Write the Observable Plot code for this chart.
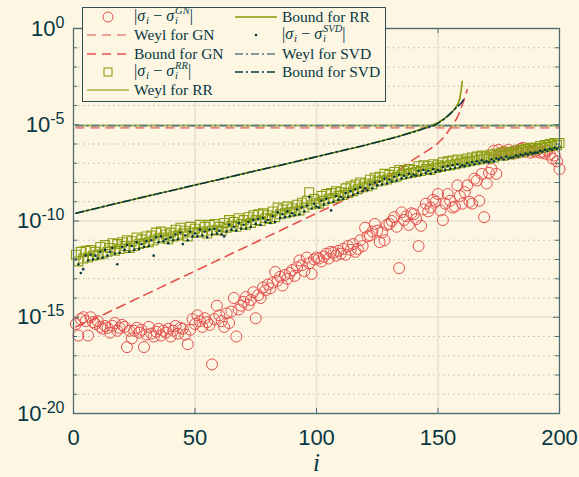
<!DOCTYPE html>
<html><head><meta charset="utf-8">
<script src="https://cdn.jsdelivr.net/npm/d3@7"></script>
<script src="https://cdn.jsdelivr.net/npm/@observablehq/plot@0.6"></script>
<style>
html,body{margin:0;padding:0;background:#fdf6e3;}
#wrap{position:relative;width:579px;height:477px;overflow:hidden;background:#fdf6e3;}
#legend{position:absolute;left:82px;top:7px;width:302px;height:93px;border:1px solid #2f4d54;background:#fdf6e3;font-family:"Liberation Serif",serif;font-size:15.5px;color:#073642;}
.item{position:absolute;display:flex;align-items:center;height:18px;white-space:nowrap;}
.item svg{display:block;margin-right:5px;flex:none;}
.m{font-size:16px;}
.m i{font-style:italic;}
.sb{font-size:11px;font-style:italic;position:relative;top:3px;margin-left:1px;}
.ss{display:inline-flex;flex-direction:column;vertical-align:middle;font-size:10.5px;font-style:italic;line-height:10px;position:relative;top:-1px;margin-left:1px;}
</style></head>
<body>
<div id="wrap"></div>
<script>
// index i
const idx = d3.range(1, 201);
const xTicks = [0, 50, 100, 150, 200];
const yMajor = [1e0, 1e-5, 1e-10, 1e-15, 1e-20];
const yMinor = d3.range(-19, 0).filter(e => e % 5 !== 0).map(e => 10 ** e);

// log10 |sigma_i - sigma_i^GN|
const gnLog = [
-15.35,-15.95,-15.1,-15.0,-15.2,-15.95,-15.0,-15.25,-15.35,-15.2,
-15.5,-15.6,-15.45,-15.55,-15.8,-15.45,-15.3,-15.7,-15.55,-15.4,
-15.5,-16.55,-15.7,-16.1,-15.7,-15.55,-15.8,-15.65,-16.55,-15.9,
-15.5,-15.85,-16.0,-15.75,-15.6,-15.95,-15.7,-15.8,-15.6,-16.0,
-15.7,-15.45,-15.85,-15.55,-15.6,-15.9,-16.4,-15.65,-15.1,-15.35,
-14.9,-15.2,-15.5,-15.05,-15.25,-15.4,-17.45,-15.1,-14.4,-14.9,
-15.2,-15.5,-14.8,-15.3,-14.7,-14.0,-16.0,-14.6,-14.4,-14.2,
-13.95,-14.35,-14.1,-13.7,-15.05,-13.85,-14.0,-13.45,-13.6,-13.3,
-13.5,-13.2,-12.65,-13.1,-12.9,-13.35,-12.8,-13.0,-12.7,-12.55,
-12.85,-12.4,-12.05,-12.3,-12.6,-11.9,-12.2,-12.75,-12.0,-11.9,
-11.95,-12.1,-11.85,-11.7,-11.95,-11.6,-11.65,-11.8,-11.55,-11.7,
-11.45,-11.75,-11.3,-11.5,-11.2,-11.6,-11.45,-11.0,-11.3,-10.35,
-10.8,-10.75,-10.55,-10.15,-10.5,-11.1,-10.6,-11.0,-10.2,-10.15,
-10.0,-9.8,-10.3,-12.45,-9.55,-9.95,-9.75,-10.2,-9.6,-9.65,
-9.9,-11.3,-10.25,-9.4,-9.1,-9.5,-9.3,-8.9,-9.0,-8.6,
-9.45,-9.95,-9.1,-8.6,-8.95,-9.3,-9.25,-8.15,-8.7,-9.1,
-8.5,-8.15,-9.0,-9.1,-7.8,-7.9,-8.95,-7.55,-9.8,-8.05,
-7.5,-7.3,-6.35,-7.55,-6.3,-6.5,-6.4,-6.55,-6.3,-6.45,
-6.5,-6.35,-6.45,-6.25,-6.2,-6.4,-6.3,-6.45,-6.35,-6.4,
-6.3,-6.45,-6.4,-6.5,-6.35,-6.55,-6.75,-6.6,-6.9,-7.3];

// log10 |sigma_i - sigma_i^RR|
const rrLog = [
-11.75,-12.1,-11.6,-11.95,-11.55,-11.9,-11.5,-11.8,-11.6,-11.75,
-11.35,-11.7,-11.25,-11.6,-11.4,-11.15,-11.55,-11.2,-11.45,-11.1,
-11.3,-11.0,-11.4,-11.05,-11.3,-10.85,-11.2,-10.95,-11.15,-10.8,
-11.1,-10.75,-11.0,-10.6,-10.9,-10.55,-10.85,-10.7,-10.95,-10.6,
-10.8,-10.45,-10.75,-10.35,-10.65,-10.5,-10.8,-10.3,-10.6,-10.4,
-10.6,-10.2,-10.55,-10.3,-10.65,-10.2,-10.5,-10.15,-10.45,-10.3,
-10.5,-10.1,-10.35,-9.95,-10.25,-10.05,-10.3,-9.85,-10.15,-9.95,
-10.2,-9.8,-10.1,-9.7,-9.95,-9.65,-10.0,-9.6,-9.85,-9.7,
-9.9,-9.5,-9.8,-9.3,-9.65,-9.4,-9.6,-9.25,-9.55,-9.35,
-9.5,-9.15,-9.45,-9.05,-9.3,-8.95,-8.5,-9.15,-8.85,-9.05,
-9.1,-8.7,-8.95,-8.6,-8.85,-8.55,-8.8,-8.45,-8.7,-8.5,
-8.65,-8.3,-8.55,-8.2,-8.45,-8.1,-8.35,-8.0,-8.25,-8.05,
-8.2,-7.85,-8.1,-7.75,-7.95,-7.7,-7.9,-7.55,-7.85,-7.6,
-7.75,-7.45,-7.7,-7.35,-7.6,-7.4,-7.55,-7.3,-7.5,-7.35,
-7.45,-7.15,-7.4,-7.1,-7.3,-7.15,-7.35,-7.05,-7.25,-7.1,
-7.2,-6.95,-7.15,-6.9,-7.1,-6.85,-7.05,-6.8,-7.0,-6.85,
-6.95,-6.75,-6.9,-6.7,-6.85,-6.65,-6.8,-6.6,-6.75,-6.65,
-6.75,-6.55,-6.7,-6.5,-6.6,-6.45,-6.6,-6.4,-6.55,-6.45,
-6.5,-6.35,-6.45,-6.3,-6.4,-6.25,-6.35,-6.2,-6.3,-6.2,
-6.25,-6.1,-6.2,-6.05,-6.15,-6.0,-6.1,-5.95,-6.05,-5.95];

// log10 |sigma_i - sigma_i^SVD|
const svdLog = [
-12.0,-12.25,-12.7,-12.5,-11.8,-12.05,-11.75,-12.0,-11.8,-11.95,
-11.6,-11.9,-11.5,-11.8,-11.6,-11.4,-11.7,-12.25,-11.65,-11.35,
-11.5,-11.25,-11.6,-11.3,-11.5,-11.1,-11.45,-11.2,-11.35,-11.05,
-11.3,-11.0,-11.8,-10.85,-11.1,-10.8,-11.05,-10.95,-11.15,-10.85,
-11.0,-10.7,-10.95,-10.6,-11.2,-10.75,-11.0,-10.55,-10.8,-10.65,
-10.8,-10.45,-10.75,-10.55,-10.85,-10.45,-10.7,-10.4,-10.65,-10.5,
-10.7,-10.8,-10.55,-10.2,-10.45,-10.3,-10.5,-10.1,-10.4,-10.2,
-10.4,-10.05,-10.3,-9.95,-10.15,-9.9,-10.2,-9.85,-10.05,-9.95,
-10.1,-9.75,-10.05,-9.55,-9.85,-9.65,-9.8,-9.5,-9.75,-9.6,
-9.7,-9.4,-9.65,-9.3,-9.5,-9.2,-8.75,-9.35,-9.1,-9.25,
-9.3,-8.95,-9.15,-8.85,-9.05,-9.45,-9.0,-8.7,-8.9,-8.75,
-8.85,-8.55,-8.75,-8.45,-8.65,-8.35,-8.55,-8.25,-8.45,-8.3,
-8.4,-8.1,-8.3,-8.0,-8.15,-7.95,-8.1,-7.8,-8.05,-7.85,
-7.95,-7.7,-7.9,-7.6,-7.8,-7.65,-7.75,-7.55,-7.7,-7.6,
-7.65,-7.4,-7.6,-7.35,-7.5,-7.4,-7.55,-7.3,-7.45,-7.35,
-7.4,-7.2,-7.35,-7.15,-7.3,-7.1,-7.25,-7.05,-7.2,-7.1,
-7.15,-7.0,-7.1,-6.95,-7.05,-6.9,-7.0,-6.85,-6.95,-6.9,
-6.95,-6.8,-6.9,-6.75,-6.8,-6.7,-6.8,-6.65,-6.75,-6.7,
-6.7,-6.6,-6.65,-6.55,-6.6,-6.5,-6.55,-6.45,-6.5,-6.45,
-6.45,-6.35,-6.4,-6.3,-6.35,-6.25,-6.3,-6.2,-6.25,-6.15];

// Weyl bounds (constant lines)
const weylGN = 6.9e-6;
const weylRR = 9.0e-6;
const weylSVD = 9.0e-6;

// Bound curves: sample indices and log10 values
const boundGN_i   = [1,10,20,30,40,50,60,70,80,90,100,110,120,130,135,140,145,150,153,156,158,160,161,162];
const boundGN_log = [-15.5,-15.0,-14.4,-13.8,-13.2,-12.6,-12.0,-11.4,-10.8,-10.2,-9.6,-9.0,-8.35,-7.65,-7.25,-6.8,-6.4,-5.95,-5.55,-5.0,-4.6,-3.95,-3.6,-3.18];
const boundRR_i   = [1,10,20,30,40,50,60,70,80,90,100,110,120,130,140,145,150,153,155,157,158,159,160];
const boundRR_log = [-9.6,-9.32,-9.02,-8.72,-8.43,-8.13,-7.84,-7.54,-7.25,-6.96,-6.66,-6.36,-6.06,-5.73,-5.35,-5.13,-4.88,-4.65,-4.45,-4.15,-3.95,-3.6,-2.74];
const boundSVD_i   = [1,10,20,30,40,50,60,70,80,90,100,110,120,130,140,145,150,153,156,158,160,161];
const boundSVD_log = [-9.6,-9.32,-9.02,-8.72,-8.43,-8.13,-7.84,-7.54,-7.25,-6.96,-6.66,-6.36,-6.06,-5.74,-5.38,-5.17,-4.93,-4.65,-4.3,-4.05,-3.8,-3.57];

const pts = (arr) => idx.map((i, k) => ({i, v: 10 ** arr[k]}));
const crv = (is, ls) => is.map((i, k) => ({i, v: 10 ** ls[k]}));

const W = 579, H = 477, mL = 73, mR = 20, mT = 28, mB = 64;
const fw = W - mL - mR, fh = H - mT - mB;
const axisCol = "#4e6b71";

const chart = Plot.plot({
  width: W, height: H,
  marginLeft: mL, marginRight: mR, marginTop: mT, marginBottom: mB,
  style: {background: "#fdf6e3", fontFamily: "'Liberation Sans', Arial, sans-serif", fontSize: "22px", color: "#073642"},
  x: {domain: [0, 200]},
  y: {type: "log", domain: [1e-20, 1]},
  marks: [
    Plot.ruleY(yMinor, {stroke: "#bfbbaa", strokeDasharray: "1.5,3.5", strokeWidth: 1}),
    Plot.ruleY(yMajor, {stroke: "#e6e1d2", strokeWidth: 1.6}),
    Plot.ruleX([50, 100, 150], {stroke: "#e6e1d2", strokeWidth: 1.6}),
    // GN
    Plot.dot(pts(gnLog), {x: "i", y: "v", r: 5.5, stroke: "#e5514c", strokeWidth: 1, fill: "none"}),
    Plot.ruleY([weylGN], {x1: 1, x2: 200, stroke: "#ee867b", strokeWidth: 1.6, strokeDasharray: "9,6"}),
    Plot.line(crv(boundGN_i, boundGN_log), {x: "i", y: "v", stroke: "#e5514c", strokeWidth: 1.6, strokeDasharray: "9,6", curve: "monotone-x"}),
    // RR
    Plot.dot(pts(rrLog), {x: "i", y: "v", symbol: "square", r: 5, stroke: "#8c9e12", strokeWidth: 1.1, fill: "none"}),
    Plot.ruleY([weylRR], {x1: 1, x2: 200, stroke: "#a9b640", strokeWidth: 1.6}),
    Plot.line(crv(boundRR_i, boundRR_log), {x: "i", y: "v", stroke: "#859900", strokeWidth: 1.6, curve: "monotone-x"}),
    // SVD
    Plot.dot(pts(svdLog), {x: "i", y: "v", r: 1.3, fill: "#073642"}),
    Plot.ruleY([weylSVD], {x1: 1, x2: 200, stroke: "#5f7a80", strokeWidth: 1.6, strokeDasharray: "8,3,2,3"}),
    Plot.line(crv(boundSVD_i, boundSVD_log), {x: "i", y: "v", stroke: "#073642", strokeWidth: 1.6, strokeDasharray: "8,3,2,3", curve: "monotone-x"}),
    // box and inward ticks
    Plot.frame({stroke: axisCol, strokeWidth: 1.3}),
    Plot.ruleY(yMinor, {stroke: axisCol, insetRight: fw - 4}),
    Plot.ruleY(yMinor, {stroke: axisCol, insetLeft: fw - 4}),
    Plot.ruleY(yMajor, {stroke: axisCol, insetRight: fw - 6}),
    Plot.ruleY(yMajor, {stroke: axisCol, insetLeft: fw - 6}),
    Plot.ruleX(xTicks, {stroke: axisCol, insetTop: fh - 5}),
    Plot.ruleX(xTicks, {stroke: axisCol, insetBottom: fh - 5}),
    Plot.axisY({ticks: yMajor, tickSize: 0, tickPadding: 9, tickFormat: d => "10^" + Math.round(Math.log10(d)), label: null}),
    Plot.axisX({ticks: xTicks, tickSize: 0, tickPadding: 16, label: null}),
    Plot.text(["i"], {frameAnchor: "bottom", dy: 57, fontFamily: "'Liberation Serif', serif", fontStyle: "italic", fontSize: 25, fill: "#073642"})
  ]
});

const ns = "http://www.w3.org/2000/svg";
chart.querySelectorAll('g[aria-label="y-axis tick label"] text').forEach(t => {
  const s = t.textContent;
  const exp = s.split("^")[1];
  t.textContent = "";
  const a = document.createElementNS(ns, "tspan"); a.textContent = "10";
  const b = document.createElementNS(ns, "tspan"); b.textContent = exp;
  b.setAttribute("dy", "-0.5em"); b.setAttribute("font-size", "16");
  t.append(a, b);
});

const wrap = document.getElementById("wrap");
wrap.appendChild(chart);

// Legend
const sw = (kind) => {
  const L = 42;
  let inner = "";
  if (kind === "circle") inner = `<circle cx="21" cy="9" r="5" fill="none" stroke="#e5514c" stroke-width="1"/>`;
  if (kind === "square") inner = `<rect x="17" y="5" width="8" height="8" fill="none" stroke="#8c9e12" stroke-width="1.1"/>`;
  if (kind === "dot") inner = `<circle cx="21" cy="9" r="1.3" fill="#073642"/>`;
  if (kind === "weylGN") inner = `<line x1="0" x2="${L}" y1="9" y2="9" stroke="#ee867b" stroke-width="1.6" stroke-dasharray="9,6"/>`;
  if (kind === "boundGN") inner = `<line x1="0" x2="${L}" y1="9" y2="9" stroke="#e5514c" stroke-width="1.6" stroke-dasharray="9,6"/>`;
  if (kind === "weylRR") inner = `<line x1="0" x2="${L}" y1="9" y2="9" stroke="#a9b640" stroke-width="1.6"/>`;
  if (kind === "boundRR") inner = `<line x1="0" x2="${L}" y1="9" y2="9" stroke="#859900" stroke-width="1.6"/>`;
  if (kind === "weylSVD") inner = `<line x1="0" x2="${L}" y1="9" y2="9" stroke="#5f7a80" stroke-width="1.6" stroke-dasharray="8,3,2,3"/>`;
  if (kind === "boundSVD") inner = `<line x1="0" x2="${L}" y1="9" y2="9" stroke="#073642" stroke-width="1.6" stroke-dasharray="8,3,2,3"/>`;
  return `<svg width="${L}" height="18">${inner}</svg>`;
};
const mlab = (s) => `<span class="m">|<i>σ</i><span class="sb">i</span> − <i>σ</i><span class="ss"><span>${s}</span><span>i</span></span>|</span>`;
const entries = [
  {col: 0, row: 0, kind: "circle", html: mlab("GN")},
  {col: 0, row: 1, kind: "weylGN", html: "Weyl for GN"},
  {col: 0, row: 2, kind: "boundGN", html: "Bound for GN"},
  {col: 0, row: 3, kind: "square", html: mlab("RR")},
  {col: 0, row: 4, kind: "weylRR", html: "Weyl for RR"},
  {col: 1, row: 0, kind: "boundRR", html: "Bound for RR"},
  {col: 1, row: 1, kind: "dot", html: mlab("SVD")},
  {col: 1, row: 2, kind: "weylSVD", html: "Weyl for SVD"},
  {col: 1, row: 3, kind: "boundSVD", html: "Bound for SVD"}
];
const leg = document.createElement("div");
leg.id = "legend";
leg.innerHTML = entries.map(e =>
  `<div class="item" style="left:${e.col ? 152 : 4}px;top:${(e.row * 18.3).toFixed(1)}px">${sw(e.kind)}<span>${e.html}</span></div>`
).join("");
wrap.appendChild(leg);
</script>
</body></html>
